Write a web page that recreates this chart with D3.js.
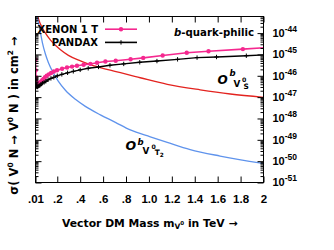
<!DOCTYPE html>
<html>
<head>
<meta charset="utf-8">
<script src="https://cdn.jsdelivr.net/npm/d3@7"></script>
<style>
body { margin: 0; background: #fff; }
svg { display: block; }
text { font-family: "DejaVu Sans", sans-serif; font-weight: bold; }
.num { font-family: "Liberation Sans", Arial, sans-serif; }
</style>
</head>
<body>
<svg id="chart" width="334" height="250"></svg>
<script>
// XENON 1T limit (TeV, cm^2)
var xenonMass = [0.01, 0.012, 0.014, 0.017, 0.02, 0.024, 0.028, 0.033, 0.038, 0.044, 0.051, 0.059, 0.069, 0.08, 0.093, 0.108, 0.126, 0.146, 0.17, 0.198, 0.242, 0.285, 0.329, 0.372, 0.43, 0.489, 0.547, 0.62, 0.71, 0.84, 0.95, 1.12, 1.33, 1.52, 1.82, 2.1];
var xenonSigma = [5.9e-46, 1.8e-46, 8.5e-47, 5.5e-47, 4.5e-47, 4.0e-47, 4.0e-47, 4.1e-47, 4.3e-47, 4.6e-47, 4.9e-47, 5.5e-47, 6.2e-47, 7.2e-47, 8.5e-47, 1.0e-46, 1.17e-46, 1.35e-46, 1.58e-46, 1.82e-46, 2.14e-46, 2.45e-46, 2.7e-46, 2.95e-46, 3.3e-46, 3.6e-46, 4.1e-46, 4.7e-46, 5.1e-46, 6.0e-46, 6.9e-46, 8.9e-46, 1.2e-45, 1.41e-45, 1.78e-45, 2.2e-45];

// PANDAX limit
var pandaxMass = [0.01, 0.012, 0.015, 0.018, 0.022, 0.027, 0.033, 0.04, 0.048, 0.058, 0.07, 0.085, 0.1, 0.12, 0.145, 0.17, 0.2, 0.24, 0.29, 0.34, 0.4, 0.47, 0.56, 0.66, 0.78, 0.92, 1.07, 1.25, 1.42, 1.59, 1.85, 2.1];
var pandaxSigma = [6.2e-47, 4.5e-47, 3.5e-47, 3.2e-47, 3.0e-47, 3.0e-47, 3.2e-47, 3.4e-47, 3.5e-47, 4.0e-47, 4.5e-47, 4.9e-47, 5.5e-47, 6.5e-47, 7.6e-47, 8.5e-47, 1.0e-46, 1.17e-46, 1.38e-46, 1.62e-46, 1.9e-46, 2.24e-46, 2.6e-46, 3.1e-46, 3.6e-46, 4.3e-46, 4.9e-46, 5.9e-46, 7.1e-46, 7.6e-46, 8.7e-46, 1.02e-45];

// O^b_{V0_S} (red)
var scalarMass = [0.01, 0.03, 0.054, 0.097, 0.141, 0.184, 0.228, 0.297, 0.402, 0.489, 0.663, 0.924, 1.16, 1.447, 1.71, 2.0];
var scalarSigma = [3e-43, 6.2e-44, 2.6e-44, 1.0e-44, 4.7e-45, 2.7e-45, 1.66e-45, 9.1e-46, 5.0e-46, 3.3e-46, 1.82e-46, 8.1e-47, 4.0e-47, 2.2e-47, 1.4e-47, 9.8e-48];

// O^b_{V0_T2} (blue)
var tensorMass = [0.01, 0.025, 0.054, 0.071, 0.097, 0.123, 0.167, 0.21, 0.271, 0.358, 0.445, 0.576, 0.707, 0.837, 1.012, 1.16, 1.36, 1.621, 1.995];
var tensorSigma = [2e-43, 5.9e-44, 1.0e-44, 3.4e-45, 1.02e-45, 4.1e-46, 1.32e-46, 5.5e-47, 2.1e-47, 7.9e-48, 3.7e-48, 1.48e-48, 6.6e-49, 2.9e-49, 1.38e-49, 7.6e-50, 3.5e-50, 1.74e-50, 7.8e-51];

var xTickValues = [0.01, 0.2, 0.4, 0.6, 0.8, 1.0, 1.2, 1.4, 1.6, 1.8, 2.0];
var xTickLabels = [".01", ".2", ".4", ".6", ".8", "1.0", "1.2", "1.4", "1.6", "1.8", "2"];
var yExponents = [-51, -50, -49, -48, -47, -46, -45, -44];

(function(){
var svg = d3.select('#chart');
svg.append('rect').attr('width', 334).attr('height', 250).attr('fill', '#fff');

var pLeft = 35.5, pRight = 263.5, pTop = 16.5, pBottom = 182.5;
var x = d3.scaleLinear().domain([0.01, 2]).range([pLeft, pRight]);
var y = d3.scaleLog().domain([1e-51, 6e-44]).range([pBottom, pTop]);

svg.append('clipPath').attr('id', 'plotclip')
    .append('rect')
    .attr('x', pLeft).attr('y', pTop)
    .attr('width', pRight - pLeft).attr('height', pBottom - pTop);

var pairs = function(ms, ss){ return ms.map(function(m, i){ return [m, ss[i]]; }); };
var line = d3.line().x(function(d){ return x(d[0]); }).y(function(d){ return y(d[1]); });
var smooth = d3.line().curve(d3.curveMonotoneX).x(function(d){ return x(d[0]); }).y(function(d){ return y(d[1]); });

var plot = svg.append('g').attr('clip-path', 'url(#plotclip)');

var pink = '#f5288f', red = '#e3231f', blue = '#5f93ec';

plot.append('path').datum(pairs(scalarMass, scalarSigma))
    .attr('d', smooth).attr('fill', 'none').attr('stroke', red).attr('stroke-width', 1.3);
plot.append('path').datum(pairs(tensorMass, tensorSigma))
    .attr('d', smooth).attr('fill', 'none').attr('stroke', blue).attr('stroke-width', 1.3);

var xenon = pairs(xenonMass, xenonSigma);
plot.append('path').datum(xenon)
    .attr('d', line).attr('fill', 'none').attr('stroke', pink).attr('stroke-width', 1.6);
plot.selectAll('circle.xe').data(xenon).enter().append('circle')
    .attr('class', 'xe')
    .attr('cx', function(d){ return x(d[0]); })
    .attr('cy', function(d){ return y(d[1]); })
    .attr('r', 2.2).attr('fill', pink);

var pandax = pairs(pandaxMass, pandaxSigma);
plot.append('path').datum(pandax)
    .attr('d', line).attr('fill', 'none').attr('stroke', '#000').attr('stroke-width', 1.4);
plot.selectAll('path.pd').data(pandax).enter().append('path')
    .attr('class', 'pd')
    .attr('d', function(d){
        var cx = x(d[0]), cy = y(d[1]);
        return 'M' + (cx - 2.2) + ',' + cy + 'H' + (cx + 2.2) + 'M' + cx + ',' + (cy - 2.2) + 'V' + (cy + 2.2);
    })
    .attr('stroke', '#000').attr('stroke-width', 1);

// axes, ticks inside the frame on all four sides
var minors = [];
yExponents.forEach(function(e){
    for (var k = 2; k <= 9; k++){
        var v = k * Math.pow(10, e);
        if (v < 6e-44) minors.push(v);
    }
});
var majors = yExponents.map(function(e){ return Math.pow(10, e); });

var ax = svg.append('g').attr('class', 'axes');
ax.append('g').attr('transform', 'translate(0,' + pBottom + ')')
    .call(d3.axisBottom(x).tickValues(xTickValues).tickSizeInner(-6).tickSizeOuter(0).tickPadding(12)
        .tickFormat(function(d, i){ return xTickLabels[i]; }));
ax.append('g').attr('transform', 'translate(0,' + pTop + ')')
    .call(d3.axisTop(x).tickValues(xTickValues).tickSizeInner(-6).tickSizeOuter(0).tickFormat(''));
[[d3.axisLeft, pLeft], [d3.axisRight, pRight]].forEach(function(a){
    ax.append('g').attr('transform', 'translate(' + a[1] + ',0)')
        .call(a[0](y).tickValues(majors).tickSizeInner(-6).tickSizeOuter(0).tickFormat(''));
    ax.append('g').attr('transform', 'translate(' + a[1] + ',0)')
        .call(a[0](y).tickValues(minors).tickSizeInner(-3).tickSizeOuter(0).tickFormat(''));
});
ax.selectAll('.domain').remove();
ax.selectAll('line').attr('stroke', '#000').attr('stroke-width', 1);
ax.selectAll('text')
    .attr('class', 'num')
    .attr('font-size', 11.5)
    .attr('fill', '#000');

svg.append('rect')
    .attr('x', pLeft).attr('y', pTop)
    .attr('width', pRight - pLeft).attr('height', pBottom - pTop)
    .attr('fill', 'none').attr('stroke', '#000').attr('stroke-width', 1);

// right-hand decade labels
var ylab = svg.append('g');
yExponents.forEach(function(e){
    var t = ylab.append('text').attr('class', 'num')
        .attr('x', pRight + 9).attr('y', y(Math.pow(10, e)) + 3.8)
        .attr('font-size', 11);
    t.append('tspan').text('10');
    t.append('tspan').attr('font-size', 8.5).attr('dy', -5).text(String(e));
});

// legend
var legend = [
    {name: 'XENON 1 T', color: pink, ty: 32.5, ly: 29.2, mark: 'circle'},
    {name: 'PANDAX', color: '#000', ty: 45.9, ly: 42.4, mark: 'plus'}
];
legend.forEach(function(l){
    svg.append('text').attr('x', 98).attr('y', l.ty).attr('text-anchor', 'end')
        .attr('font-size', 10).text(l.name);
    svg.append('line').attr('x1', 105).attr('x2', 137).attr('y1', l.ly).attr('y2', l.ly)
        .attr('stroke', l.color).attr('stroke-width', 1.6);
    if (l.mark === 'circle'){
        svg.append('circle').attr('cx', 121).attr('cy', l.ly).attr('r', 2.2).attr('fill', l.color);
    } else {
        svg.append('path').attr('d', 'M118.8,' + l.ly + 'H123.2M121,' + (l.ly - 2.2) + 'V' + (l.ly + 2.2))
            .attr('stroke', '#000').attr('stroke-width', 1);
    }
});

var tag = svg.append('text').attr('x', 254).attr('y', 35.7).attr('text-anchor', 'end').attr('font-size', 10.2);
tag.append('tspan').attr('font-style', 'italic').text('b');
tag.append('tspan').text('-quark-philic');

// operator labels
function opLabel(p){
    svg.append('text').attr('x', p.ox).attr('y', p.oy).attr('font-size', p.ofs).attr('font-style', 'italic').text('O');
    svg.append('text').attr('x', p.bx).attr('y', p.by).attr('font-size', 8.5).attr('font-style', 'italic').text('b');
    svg.append('text').attr('x', p.vx).attr('y', p.vy).attr('font-size', 8.8).text('V');
    svg.append('text').attr('x', p.zx).attr('y', p.zy).attr('font-size', 6.2).text('0');
    var s = svg.append('text').attr('x', p.sx).attr('y', p.sy).attr('font-size', 7.4);
    s.append('tspan').text(p.sub);
    if (p.subsub) s.append('tspan').attr('font-size', 5.8).attr('dy', 2).text(p.subsub);
}
opLabel({ox: 217.5, oy: 83.5, ofs: 12, bx: 229.5, by: 76, vx: 233.5, vy: 87, zx: 242, zy: 81.5, sx: 243.5, sy: 88.5, sub: 'S'});
opLabel({ox: 125.5, oy: 150, ofs: 12.5, bx: 137.5, by: 145, vx: 142.5, vy: 153.5, zx: 151.5, zy: 149.3, sx: 154.8, sy: 155, sub: 'T', subsub: '2'});

// axis titles
var xt = svg.append('text').attr('x', 62).attr('y', 226.7).attr('font-size', 10.8);
xt.append('tspan').text('Vector DM Mass m');
xt.append('tspan').attr('font-size', 7.5).attr('dy', 2.5).text('V');
xt.append('tspan').attr('font-size', 5.5).attr('dy', -4).text('0');
xt.append('tspan').attr('dy', 1.5).text(' in TeV \u2192');

var yt = svg.append('text').attr('transform', 'rotate(-90)')
    .attr('x', -115.5).attr('y', 17.8).attr('text-anchor', 'middle').attr('font-size', 11.5);
yt.append('tspan').text('\u03c3( V');
yt.append('tspan').attr('font-size', 7.5).attr('dy', -4.5).text('0');
yt.append('tspan').attr('dy', 4.5).text(' N \u2192 V');
yt.append('tspan').attr('font-size', 7.5).attr('dy', -4.5).text('0');
yt.append('tspan').attr('dy', 4.5).text(' N ) in cm');
yt.append('tspan').attr('font-size', 7.5).attr('dy', -4.5).text('2');
yt.append('tspan').attr('dy', 4.5).text(' \u2192');
})();
</script>
</body>
</html>
